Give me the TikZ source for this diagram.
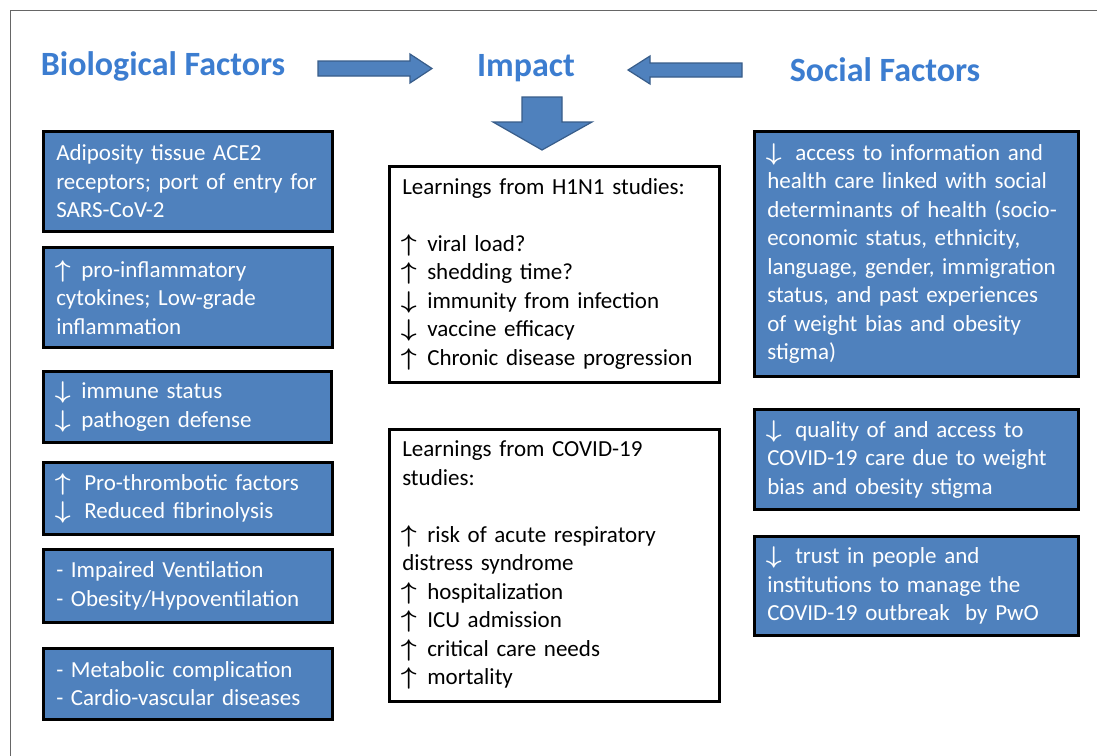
\RequirePackage{fix-cm}
\documentclass[tikz,border=0pt]{standalone}
\usepackage{fontspec}
\setmainfont{Carlito}
\definecolor{boxblue}{HTML}{4F81BD}
\definecolor{titleblue}{HTML}{3C7DD0}
\definecolor{arrline}{HTML}{385D8A}
\definecolor{frameline}{HTML}{666666}
\newcommand{\UA}{\makebox[13pt]{\scalebox{1.2}[1.05]{\boldmath$\uparrow$}}\hspace{12pt}}
\newcommand{\DA}{\makebox[13pt]{\scalebox{1.2}[1.05]{\boldmath$\downarrow$}}\hspace{12pt}}
\newcommand{\UAw}{\makebox[13pt]{\scalebox{1.2}[1.05]{\boldmath$\uparrow$}}\hspace{15pt}}
\newcommand{\DAw}{\makebox[13pt]{\scalebox{1.2}[1.05]{\boldmath$\downarrow$}}\hspace{15pt}}
\begin{document}
\begin{tikzpicture}[x=1pt,y=-1pt,
  bluebox/.style={draw=black, line width=2.5pt, fill=boxblue, text=white, anchor=north west,
    align=left, inner xsep=13pt, inner ysep=0pt, font=\fontsize{23}{28.5}\selectfont},
  whitebox/.style={draw=black, line width=2.5pt, fill=white, text=black, anchor=north west,
    align=left, inner xsep=13pt, inner ysep=0pt, font=\fontsize{23}{28.5}\selectfont},
  title/.style={text=titleblue, font=\bfseries\fontsize{34}{40}\selectfont, inner sep=0pt},
  blockarrow/.style={fill=boxblue, draw=arrline, line width=1.2pt, line join=miter}
]
\useasboundingbox (0,0) rectangle (1097,755);
\fill[white] (0,0) rectangle (1097,755);
\draw[frameline, line width=1pt] (10,760) -- (10,10) -- (1100,10);

% titles
\node[title] (bio) at (163,66) {Biological Factors};
\node[title] (imp) at (526,68) {Impact};
\node[title] (soc) at (885,70) {Social Factors};

% block arrows
\draw[blockarrow] (318,61) -- (410,61) -- (410,54) -- (432,68.5) -- (410,83) -- (410,76) -- (318,76) -- cycle;
\draw[blockarrow] (742,63) -- (650,63) -- (650,56) -- (628,70) -- (650,84) -- (650,77) -- (742,77) -- cycle;
\draw[blockarrow] (522,97) -- (562,97) -- (562,122) -- (592,122) -- (542,150) -- (493,122) -- (522,122) -- cycle;

% left column
\node[bluebox, minimum width=289pt, minimum height=100pt, text width=263pt] (b1) at (42,130)
  {Adiposity tissue ACE2\\receptors; port of entry for\\SARS-CoV-2};
\node[bluebox, minimum width=289pt, minimum height=100pt, text width=263pt] (b2) at (42,246)
  {\UA pro-inflammatory\\cytokines; Low-grade\\inflammation};
\node[bluebox, minimum width=288pt, minimum height=71pt, text width=262pt] (b3) at (42,370)
  {\DA immune status\\\DA pathogen defense};
\node[bluebox, minimum width=289pt, minimum height=72pt, text width=263pt] (b4) at (42,461)
  {\UAw Pro-thrombotic factors\\\DAw Reduced fibrinolysis};
\node[bluebox, minimum width=289pt, minimum height=73pt, text width=263pt] (b5) at (42,548)
  {- Impaired Ventilation\\- Obesity/Hypoventilation};
\node[bluebox, minimum width=289pt, minimum height=71pt, text width=263pt] (b6) at (42,647)
  {- Metabolic complication\\- Cardio-vascular diseases};

% middle column
\node[whitebox, minimum width=330pt, minimum height=216pt, text width=304pt] (h1) at (388,165)
  {Learnings from H1N1 studies:\\[28.5pt]\UA viral load?\\\UA shedding time?\\\DA immunity from infection\\\DA vaccine efficacy\\\UA Chronic disease progression};
\node[whitebox, minimum width=330pt, minimum height=272pt, text width=304pt] (cv) at (388,428)
  {Learnings from COVID-19\\studies:\\[28.5pt]\UA risk of acute respiratory\\distress syndrome\\\UA hospitalization\\\UA ICU admission\\\UA critical care needs\\\UA mortality};

% right column
\node[bluebox, minimum width=324pt, minimum height=245pt, text width=298pt] (r1) at (753,130)
  {\DAw access to information and\\health care linked with social\\determinants of health (socio-\\economic status, ethnicity,\\language, gender, immigration\\status, and past experiences\\of weight bias and obesity\\stigma)};
\node[bluebox, minimum width=324pt, minimum height=100pt, text width=298pt] (r2) at (753,408)
  {\DAw quality of and access to\\COVID-19 care due to weight\\bias and obesity stigma};
\node[bluebox, minimum width=324pt, minimum height=99pt, text width=298pt] (r3) at (753,535)
  {\DAw trust in people and\\institutions to manage the\\COVID-19 outbreak\ \ by PwO};
\end{tikzpicture}
\end{document}
